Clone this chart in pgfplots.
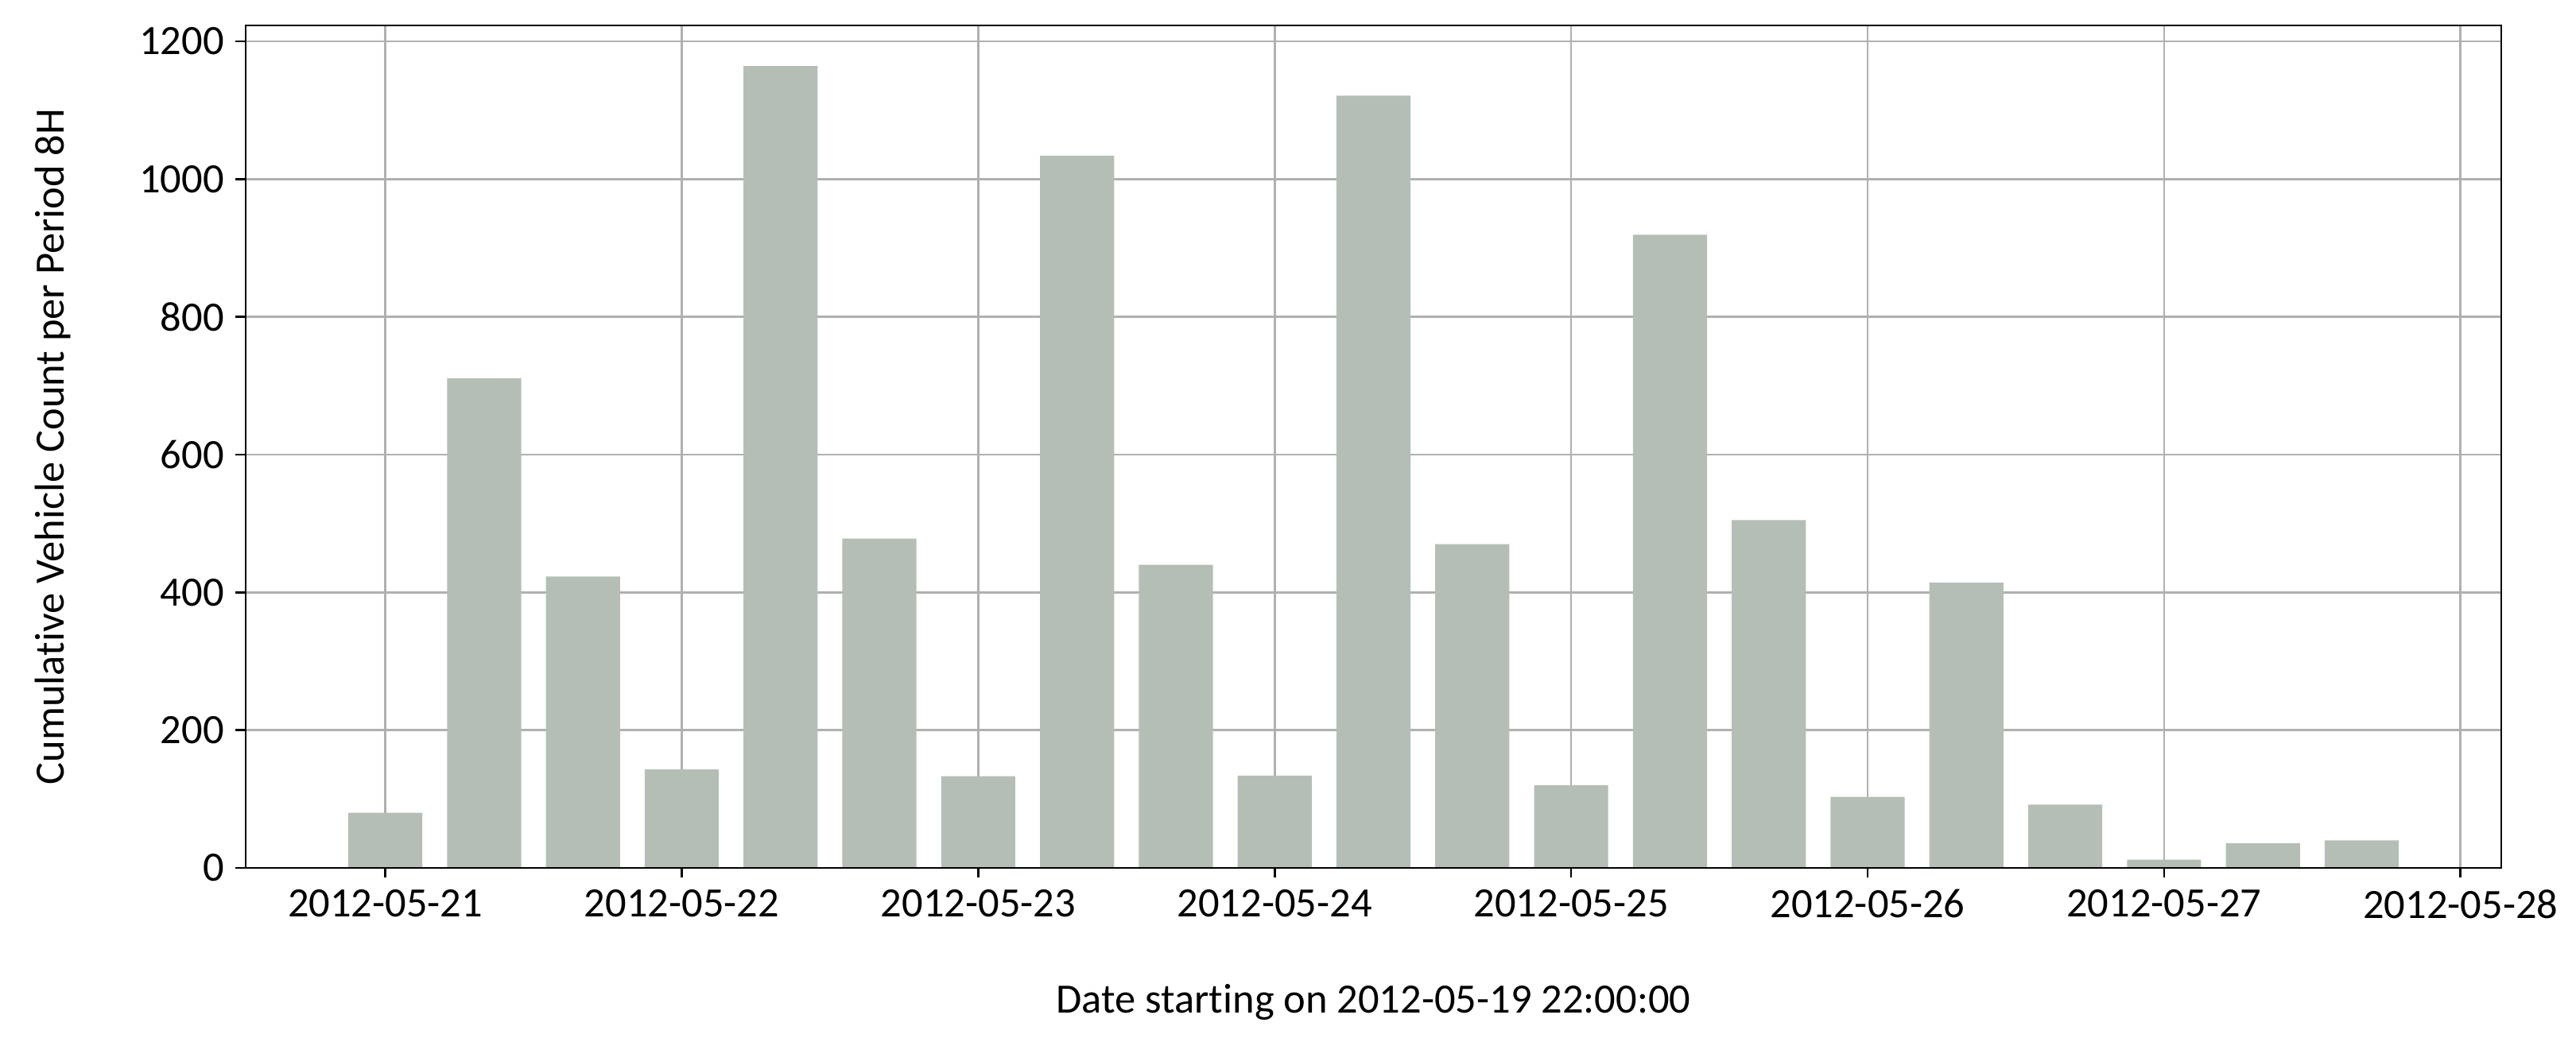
\documentclass[border=0pt]{standalone}
\usepackage{fontspec}
\setmainfont{Carlito}[Ligatures=NoCommon]
\usepackage{pgfplots}
\usepackage{pgfplotstable}
\pgfplotsset{compat=1.18}
\usetikzlibrary{calc}
\definecolor{barc}{RGB}{180,190,181}
\definecolor{gridc}{RGB}{176,176,176}

\pgfplotstableread{
x y
0.0000 80
0.3333 711
0.6667 423
1.0000 143
1.3333 1164
1.6667 478
2.0000 133
2.3333 1034
2.6667 440
3.0000 134
3.3333 1121
3.6667 470
4.0000 120
4.3333 919
4.6667 505
5.0000 103
5.3333 414
5.6667 92
6.0000 12
6.3333 36
6.6667 40
}\counts

\begin{document}
\begin{tikzpicture}
\begin{axis}[
  scale only axis,
  width=680.88pt, height=254.4pt,
  xmin=-0.4710, xmax=7.1375,
  ymin=0, ymax=1223,
  xtick={0,1,2,3,4,5,6,7},
  xticklabels={2012-05-21,2012-05-22,2012-05-23,2012-05-24,2012-05-25,2012-05-26,2012-05-27,2012-05-28},
  ytick={0,200,400,600,800,1000,1200},
  minor tick num=0,
  tick pos=left,
  tick align=outside,
  major tick length=3pt,
  every tick/.style={black, line width=0.65pt},
  axis line style={black, line width=0.65pt},
  grid=major,
  set layers, axis on top,
  major grid style={gridc, line width=0.65pt, /pgfplots/on layer=axis background},
  /pgf/number format/assume math mode=true,
  /pgf/number format/1000 sep={},
  tick label style={font=\fontsize{12.6pt}{15pt}\selectfont, black},
  label style={font=\fontsize{12.6pt}{15pt}\selectfont, black},
  xlabel={Date starting on 2012-05-19 22:00:00},
  ylabel={Cumulative Vehicle Count per Period 8H},
  xlabel style={at={($(axis description cs:0.5,0)+(0pt,-43.9pt)$)}, anchor=base, inner sep=0pt},
  ylabel style={at={($(axis description cs:0,0.5)+(-52.6pt,0pt)$)}, anchor=south, inner sep=0pt},
  ybar, bar width=0.25, bar shift=0pt,
]
\addplot[fill=barc, draw=none, bar shift=0pt] table[x=x, y=y] {\counts};
\end{axis}
\pgfresetboundingbox
\path ($(current axis.south west)+(-74.16pt,-51.36pt)$) rectangle ($(current axis.north east)+(22.56pt,7.68pt)$);
\end{tikzpicture}
\end{document}
